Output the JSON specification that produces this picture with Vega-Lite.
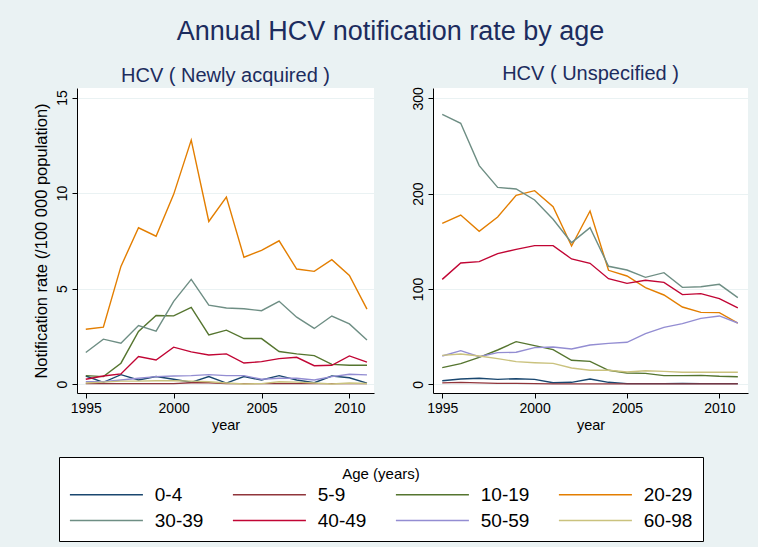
{
  "$schema": "https://vega.github.io/schema/vega-lite/v6.json",
  "background": "#EAF2F3",
  "padding": {"left": 33, "top": 17, "right": 10, "bottom": 5},
  "title": {"text": "Annual HCV notification rate by age", "fontSize": 27, "font": "Liberation Sans", "fontWeight": "normal", "color": "#1C2C5E", "anchor": "middle", "offset": 18.5},
  "datasets": {
    "newly": [
      {"age":"0-4","year":1995,"rate":0.42},{"age":"0-4","year":1996,"rate":0.09},{"age":"0-4","year":1997,"rate":0.49},{"age":"0-4","year":1998,"rate":0.21},{"age":"0-4","year":1999,"rate":0.39},{"age":"0-4","year":2000,"rate":0.25},{"age":"0-4","year":2001,"rate":0.09},{"age":"0-4","year":2002,"rate":0.39},{"age":"0-4","year":2003,"rate":0.05},{"age":"0-4","year":2004,"rate":0.39},{"age":"0-4","year":2005,"rate":0.21},{"age":"0-4","year":2006,"rate":0.44},{"age":"0-4","year":2007,"rate":0.21},{"age":"0-4","year":2008,"rate":0.07},{"age":"0-4","year":2009,"rate":0.42},{"age":"0-4","year":2010,"rate":0.33},{"age":"0-4","year":2011,"rate":0.05},
      {"age":"5-9","year":1995,"rate":0.02},{"age":"5-9","year":1996,"rate":0.02},{"age":"5-9","year":1997,"rate":0.02},{"age":"5-9","year":1998,"rate":0.02},{"age":"5-9","year":1999,"rate":0.02},{"age":"5-9","year":2000,"rate":0.02},{"age":"5-9","year":2001,"rate":0.07},{"age":"5-9","year":2002,"rate":0.07},{"age":"5-9","year":2003,"rate":0.02},{"age":"5-9","year":2004,"rate":0.02},{"age":"5-9","year":2005,"rate":0.02},{"age":"5-9","year":2006,"rate":0.02},{"age":"5-9","year":2007,"rate":0.02},{"age":"5-9","year":2008,"rate":0.02},{"age":"5-9","year":2009,"rate":0.02},{"age":"5-9","year":2010,"rate":0.02},{"age":"5-9","year":2011,"rate":0.02},
      {"age":"10-19","year":1995,"rate":0.44},{"age":"10-19","year":1996,"rate":0.39},{"age":"10-19","year":1997,"rate":1.09},{"age":"10-19","year":1998,"rate":2.75},{"age":"10-19","year":1999,"rate":3.59},{"age":"10-19","year":2000,"rate":3.57},{"age":"10-19","year":2001,"rate":4.01},{"age":"10-19","year":2002,"rate":2.57},{"age":"10-19","year":2003,"rate":2.82},{"age":"10-19","year":2004,"rate":2.38},{"age":"10-19","year":2005,"rate":2.38},{"age":"10-19","year":2006,"rate":1.7},{"age":"10-19","year":2007,"rate":1.58},{"age":"10-19","year":2008,"rate":1.49},{"age":"10-19","year":2009,"rate":1.03},{"age":"10-19","year":2010,"rate":0.98},{"age":"10-19","year":2011,"rate":0.98},
      {"age":"20-29","year":1995,"rate":2.87},{"age":"20-29","year":1996,"rate":2.98},{"age":"20-29","year":1997,"rate":6.16},{"age":"20-29","year":1998,"rate":8.18},{"age":"20-29","year":1999,"rate":7.74},{"age":"20-29","year":2000,"rate":9.93},{"age":"20-29","year":2001,"rate":12.77},{"age":"20-29","year":2002,"rate":8.51},{"age":"20-29","year":2003,"rate":9.79},{"age":"20-29","year":2004,"rate":6.64},{"age":"20-29","year":2005,"rate":7.0},{"age":"20-29","year":2006,"rate":7.5},{"age":"20-29","year":2007,"rate":6.02},{"age":"20-29","year":2008,"rate":5.9},{"age":"20-29","year":2009,"rate":6.51},{"age":"20-29","year":2010,"rate":5.69},{"age":"20-29","year":2011,"rate":3.92},
      {"age":"30-39","year":1995,"rate":1.65},{"age":"30-39","year":1996,"rate":2.35},{"age":"30-39","year":1997,"rate":2.14},{"age":"30-39","year":1998,"rate":3.06},{"age":"30-39","year":1999,"rate":2.77},{"age":"30-39","year":2000,"rate":4.33},{"age":"30-39","year":2001,"rate":5.48},{"age":"30-39","year":2002,"rate":4.13},{"age":"30-39","year":2003,"rate":3.98},{"age":"30-39","year":2004,"rate":3.94},{"age":"30-39","year":2005,"rate":3.84},{"age":"30-39","year":2006,"rate":4.33},{"age":"30-39","year":2007,"rate":3.5},{"age":"30-39","year":2008,"rate":2.91},{"age":"30-39","year":2009,"rate":3.56},{"age":"30-39","year":2010,"rate":3.15},{"age":"30-39","year":2011,"rate":2.3},
      {"age":"40-49","year":1995,"rate":0.25},{"age":"40-49","year":1996,"rate":0.42},{"age":"40-49","year":1997,"rate":0.53},{"age":"40-49","year":1998,"rate":1.44},{"age":"40-49","year":1999,"rate":1.26},{"age":"40-49","year":2000,"rate":1.93},{"age":"40-49","year":2001,"rate":1.68},{"age":"40-49","year":2002,"rate":1.52},{"age":"40-49","year":2003,"rate":1.58},{"age":"40-49","year":2004,"rate":1.1},{"age":"40-49","year":2005,"rate":1.17},{"age":"40-49","year":2006,"rate":1.33},{"age":"40-49","year":2007,"rate":1.4},{"age":"40-49","year":2008,"rate":0.96},{"age":"40-49","year":2009,"rate":0.98},{"age":"40-49","year":2010,"rate":1.47},{"age":"40-49","year":2011,"rate":1.15},
      {"age":"50-59","year":1995,"rate":0.12},{"age":"50-59","year":1996,"rate":0.12},{"age":"50-59","year":1997,"rate":0.21},{"age":"50-59","year":1998,"rate":0.3},{"age":"50-59","year":1999,"rate":0.39},{"age":"50-59","year":2000,"rate":0.42},{"age":"50-59","year":2001,"rate":0.44},{"age":"50-59","year":2002,"rate":0.49},{"age":"50-59","year":2003,"rate":0.44},{"age":"50-59","year":2004,"rate":0.44},{"age":"50-59","year":2005,"rate":0.25},{"age":"50-59","year":2006,"rate":0.3},{"age":"50-59","year":2007,"rate":0.3},{"age":"50-59","year":2008,"rate":0.21},{"age":"50-59","year":2009,"rate":0.39},{"age":"50-59","year":2010,"rate":0.51},{"age":"50-59","year":2011,"rate":0.48},
      {"age":"60-98","year":1995,"rate":0.05},{"age":"60-98","year":1996,"rate":0.1},{"age":"60-98","year":1997,"rate":0.15},{"age":"60-98","year":1998,"rate":0.15},{"age":"60-98","year":1999,"rate":0.17},{"age":"60-98","year":2000,"rate":0.17},{"age":"60-98","year":2001,"rate":0.15},{"age":"60-98","year":2002,"rate":0.12},{"age":"60-98","year":2003,"rate":0.05},{"age":"60-98","year":2004,"rate":0.0},{"age":"60-98","year":2005,"rate":0.02},{"age":"60-98","year":2006,"rate":0.12},{"age":"60-98","year":2007,"rate":0.1},{"age":"60-98","year":2008,"rate":0.05},{"age":"60-98","year":2009,"rate":0.0},{"age":"60-98","year":2010,"rate":0.05},{"age":"60-98","year":2011,"rate":0.03}
    ],
    "unspec": [
      {"age":"0-4","year":1995,"rate":3.8},{"age":"0-4","year":1996,"rate":5.6},{"age":"0-4","year":1997,"rate":6.3},{"age":"0-4","year":1998,"rate":5.2},{"age":"0-4","year":1999,"rate":5.9},{"age":"0-4","year":2000,"rate":5.2},{"age":"0-4","year":2001,"rate":1.7},{"age":"0-4","year":2002,"rate":2.1},{"age":"0-4","year":2003,"rate":5.6},{"age":"0-4","year":2004,"rate":2.1},{"age":"0-4","year":2005,"rate":0.7},{"age":"0-4","year":2006,"rate":0.7},{"age":"0-4","year":2007,"rate":0.7},{"age":"0-4","year":2008,"rate":1.0},{"age":"0-4","year":2009,"rate":0.7},{"age":"0-4","year":2010,"rate":0.7},{"age":"0-4","year":2011,"rate":0.7},
      {"age":"5-9","year":1995,"rate":1.5},{"age":"5-9","year":1996,"rate":2.0},{"age":"5-9","year":1997,"rate":1.5},{"age":"5-9","year":1998,"rate":1.0},{"age":"5-9","year":1999,"rate":1.0},{"age":"5-9","year":2000,"rate":0.7},{"age":"5-9","year":2001,"rate":0.5},{"age":"5-9","year":2002,"rate":0.5},{"age":"5-9","year":2003,"rate":0.5},{"age":"5-9","year":2004,"rate":0.5},{"age":"5-9","year":2005,"rate":0.5},{"age":"5-9","year":2006,"rate":0.5},{"age":"5-9","year":2007,"rate":0.5},{"age":"5-9","year":2008,"rate":0.5},{"age":"5-9","year":2009,"rate":0.5},{"age":"5-9","year":2010,"rate":0.5},{"age":"5-9","year":2011,"rate":0.5},
      {"age":"10-19","year":1995,"rate":17.5},{"age":"10-19","year":1996,"rate":21.7},{"age":"10-19","year":1997,"rate":28.3},{"age":"10-19","year":1998,"rate":36.0},{"age":"10-19","year":1999,"rate":44.8},{"age":"10-19","year":2000,"rate":40.6},{"age":"10-19","year":2001,"rate":36.4},{"age":"10-19","year":2002,"rate":25.2},{"age":"10-19","year":2003,"rate":24.1},{"age":"10-19","year":2004,"rate":14.7},{"age":"10-19","year":2005,"rate":11.9},{"age":"10-19","year":2006,"rate":11.5},{"age":"10-19","year":2007,"rate":9.1},{"age":"10-19","year":2008,"rate":9.1},{"age":"10-19","year":2009,"rate":9.4},{"age":"10-19","year":2010,"rate":8.4},{"age":"10-19","year":2011,"rate":8.0},
      {"age":"20-29","year":1995,"rate":168.9},{"age":"20-29","year":1996,"rate":177.6},{"age":"20-29","year":1997,"rate":160.5},{"age":"20-29","year":1998,"rate":175.5},{"age":"20-29","year":1999,"rate":198.3},{"age":"20-29","year":2000,"rate":203.1},{"age":"20-29","year":2001,"rate":186.4},{"age":"20-29","year":2002,"rate":145.1},{"age":"20-29","year":2003,"rate":181.8},{"age":"20-29","year":2004,"rate":119.6},{"age":"20-29","year":2005,"rate":113.6},{"age":"20-29","year":2006,"rate":101.4},{"age":"20-29","year":2007,"rate":93.7},{"age":"20-29","year":2008,"rate":81.1},{"age":"20-29","year":2009,"rate":75.5},{"age":"20-29","year":2010,"rate":75.2},{"age":"20-29","year":2011,"rate":64.3},
      {"age":"30-39","year":1995,"rate":283.2},{"age":"30-39","year":1996,"rate":273.8},{"age":"30-39","year":1997,"rate":229.4},{"age":"30-39","year":1998,"rate":206.6},{"age":"30-39","year":1999,"rate":204.9},{"age":"30-39","year":2000,"rate":193.4},{"age":"30-39","year":2001,"rate":173.1},{"age":"30-39","year":2002,"rate":148.6},{"age":"30-39","year":2003,"rate":164.3},{"age":"30-39","year":2004,"rate":123.8},{"age":"30-39","year":2005,"rate":119.9},{"age":"30-39","year":2006,"rate":112.2},{"age":"30-39","year":2007,"rate":117.1},{"age":"30-39","year":2008,"rate":101.7},{"age":"30-39","year":2009,"rate":102.4},{"age":"30-39","year":2010,"rate":104.9},{"age":"30-39","year":2011,"rate":90.9},
      {"age":"40-49","year":1995,"rate":110.1},{"age":"40-49","year":1996,"rate":127.3},{"age":"40-49","year":1997,"rate":128.7},{"age":"40-49","year":1998,"rate":137.1},{"age":"40-49","year":1999,"rate":141.6},{"age":"40-49","year":2000,"rate":145.5},{"age":"40-49","year":2001,"rate":145.5},{"age":"40-49","year":2002,"rate":131.5},{"age":"40-49","year":2003,"rate":126.9},{"age":"40-49","year":2004,"rate":110.8},{"age":"40-49","year":2005,"rate":105.9},{"age":"40-49","year":2006,"rate":109.1},{"age":"40-49","year":2007,"rate":107.0},{"age":"40-49","year":2008,"rate":94.1},{"age":"40-49","year":2009,"rate":95.1},{"age":"40-49","year":2010,"rate":89.9},{"age":"40-49","year":2011,"rate":80.1},
      {"age":"50-59","year":1995,"rate":29.7},{"age":"50-59","year":1996,"rate":35.3},{"age":"50-59","year":1997,"rate":29.0},{"age":"50-59","year":1998,"rate":33.2},{"age":"50-59","year":1999,"rate":33.6},{"age":"50-59","year":2000,"rate":38.5},{"age":"50-59","year":2001,"rate":39.2},{"age":"50-59","year":2002,"rate":37.1},{"age":"50-59","year":2003,"rate":41.3},{"age":"50-59","year":2004,"rate":43.0},{"age":"50-59","year":2005,"rate":44.1},{"age":"50-59","year":2006,"rate":53.1},{"age":"50-59","year":2007,"rate":59.8},{"age":"50-59","year":2008,"rate":63.6},{"age":"50-59","year":2009,"rate":69.2},{"age":"50-59","year":2010,"rate":71.7},{"age":"50-59","year":2011,"rate":64.3},
      {"age":"60-98","year":1995,"rate":30.4},{"age":"60-98","year":1996,"rate":31.8},{"age":"60-98","year":1997,"rate":29.7},{"age":"60-98","year":1998,"rate":26.9},{"age":"60-98","year":1999,"rate":23.8},{"age":"60-98","year":2000,"rate":22.7},{"age":"60-98","year":2001,"rate":22.0},{"age":"60-98","year":2002,"rate":17.1},{"age":"60-98","year":2003,"rate":14.7},{"age":"60-98","year":2004,"rate":14.7},{"age":"60-98","year":2005,"rate":12.9},{"age":"60-98","year":2006,"rate":14.3},{"age":"60-98","year":2007,"rate":13.6},{"age":"60-98","year":2008,"rate":12.6},{"age":"60-98","year":2009,"rate":12.6},{"age":"60-98","year":2010,"rate":12.6},{"age":"60-98","year":2011,"rate":12.6}
    ]
  },
  "spacing": 36,
  "hconcat": [
    {
      "data": {"name": "newly"},
      "width": 297,
      "height": 305,
      "title": {"text": "HCV ( Newly acquired )"},
      "mark": {"type": "line", "strokeWidth": 1.4},
      "encoding": {
        "x": {"field": "year", "type": "quantitative", "scale": {"domain": [1994.5, 2011.4], "nice": false, "zero": false}, "axis": {"values": [1995, 2000, 2005, 2010], "title": "year", "format": "d", "grid": false}},
        "y": {"field": "rate", "type": "quantitative", "scale": {"domain": [-0.47, 15.5], "nice": false, "zero": false}, "axis": {"values": [0, 5, 10, 15], "title": "Notification rate (/100 000 population)"}},
        "color": {"field": "age", "type": "nominal", "scale": {"domain": ["0-4", "5-9", "10-19", "20-29", "30-39", "40-49", "50-59", "60-98"], "range": ["#1A476F", "#90353B", "#55752F", "#E37E00", "#6E8E84", "#C10534", "#938DD2", "#CAC27E"]}, "legend": {"title": "Age (years)"}}
      }
    },
    {
      "data": {"name": "unspec"},
      "width": 315,
      "height": 305,
      "title": {"text": "HCV ( Unspecified )"},
      "mark": {"type": "line", "strokeWidth": 1.4},
      "encoding": {
        "x": {"field": "year", "type": "quantitative", "scale": {"domain": [1994.5, 2011.55], "nice": false, "zero": false}, "axis": {"values": [1995, 2000, 2005, 2010], "title": "year", "format": "d", "grid": false}},
        "y": {"field": "rate", "type": "quantitative", "scale": {"domain": [-9.1, 310.8], "nice": false, "zero": false}, "axis": {"values": [0, 100, 200, 300], "title": null}},
        "color": {"field": "age", "type": "nominal", "scale": {"domain": ["0-4", "5-9", "10-19", "20-29", "30-39", "40-49", "50-59", "60-98"], "range": ["#1A476F", "#90353B", "#55752F", "#E37E00", "#6E8E84", "#C10534", "#938DD2", "#CAC27E"]}, "legend": {"title": "Age (years)"}}
      }
    }
  ],
  "config": {
    "font": "Liberation Sans",
    "view": {"fill": "white", "stroke": null},
    "title": {"fontSize": 20, "fontWeight": "normal", "color": "#1C2C5E", "offset": 2.5, "font": "Liberation Sans"},
    "axis": {
      "domainColor": "#000000", "tickColor": "#000000", "labelColor": "#000000", "titleColor": "#000000",
      "labelFontSize": 14, "titleFontSize": 14.5, "titleFontWeight": "normal", "tickSize": 5, "labelPadding": 3,
      "gridColor": "#EAF2F3", "gridWidth": 1.2, "domainWidth": 1
    },
    "axisY": {"labelAngle": 270, "labelAlign": "center", "labelBaseline": "bottom", "grid": true, "titlePadding": 6, "titleFontSize": 16.5},
    "axisX": {"titlePadding": 3},
    "legend": {
      "orient": "none", "legendX": -18, "legendY": 369,
      "columns": 4, "direction": "horizontal", "gridAlign": "all",
      "symbolType": "M-1,0H4", "symbolSize": 853, "symbolStrokeWidth": 1.5,
      "labelFontSize": 19, "labelOffset": 54.8, "labelColor": "#000000",
      "titleFontSize": 15, "titleFontWeight": "normal", "titleColor": "#000000", "titleAnchor": "middle", "titlePadding": -3,
      "rowPadding": -4, "columnPadding": 25,
      "strokeColor": "#000000", "fillColor": "white", "padding": 10
    }
  }
}
